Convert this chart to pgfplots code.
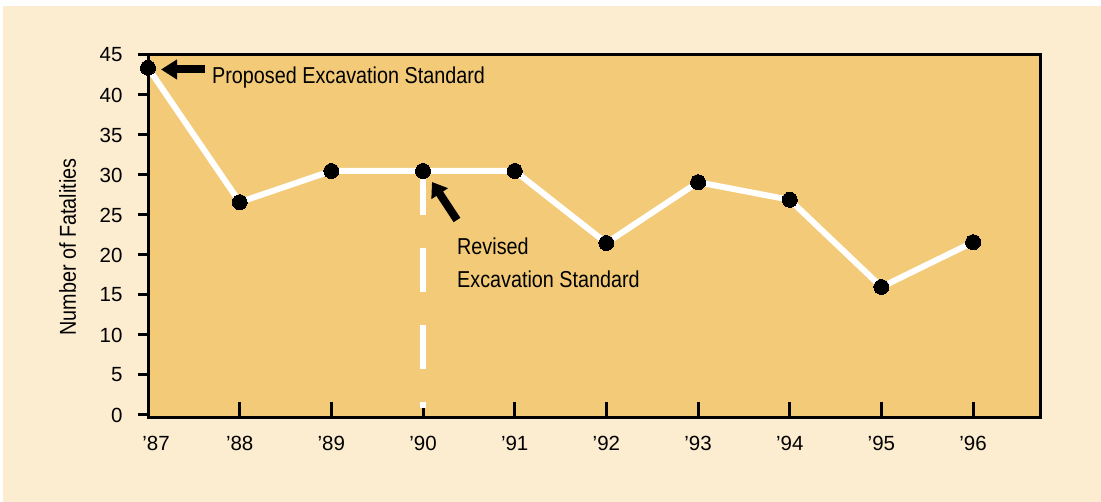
\documentclass[border=0pt]{standalone}
\usepackage{pgfplots}
\pgfplotsset{compat=1.18}
\usetikzlibrary{arrows.meta}
\usepackage{fontspec}
\setmainfont{Liberation Sans}[FakeStretch=0.86]
\newfontfamily\tickfamily{Liberation Sans}
\definecolor{pagecream}{RGB}{252,236,208}
\definecolor{panelorange}{RGB}{242,202,120}
\newcommand\ticksize{\tickfamily\fontsize{20.5bp}{24bp}\selectfont}
\newcommand\labelsize{\fontsize{23bp}{27bp}\selectfont}

% Trench fatalities per year
\pgfplotstableread{
x  y
0  43.4
1  26.6
2  30.5
3  30.5
4  30.5
5  21.5
6  29.1
7  26.9
8  16.0
9  21.6
}\fatalities

\begin{document}
\begin{tikzpicture}[x=1bp,y=1bp]
\fill[white] (0,0) rectangle (1101,502);
\fill[pagecream] (3,0) rectangle (1101,496);
\begin{axis}[
  at={(148bp,84bp)}, anchor=south west,
  scale only axis, width=892bp, height=363bp,
  xmin=0, xmax=9.73, ymin=-0.375, ymax=45,
  axis background/.style={fill=panelorange},
  axis line style={black, line width=3bp},
  tickpos=left,
  xtick align=inside, ytick align=outside,
  xtick={0,...,9},
  xticklabels={\hspace{16bp}’87,’88,’89,’90,’91,’92,’93,’94,’95,’96},
  ytick={0,5,...,45},
  major tick length=10bp,
  x tick style={/pgfplots/major tick length=16bp},
  tick style={black, line width=3bp},
  xticklabel style={font=\ticksize, anchor=north, yshift=-15bp},
  yticklabel style={font=\ticksize, anchor=east, xshift=-12bp},
  /pgf/number format/assume math mode=true,
  ylabel={Number of Fatalities},
  ylabel style={font=\labelsize, at={(axis description cs:-0.09,0.471)}, anchor=center},
  clip=false,
]
% revised standard marker line
\addplot[white, line width=6bp, dash pattern=on 44bp off 33bp] coordinates {(3,30.5) (3,0.9)};
\addplot[white, line width=6bp, mark=*, mark size=7.5bp,
  mark options={black, fill=black, line width=0pt}] table[x=x, y=y] {\fatalities};
\end{axis}
\draw[line width=8bp, -{Triangle[length=16bp, width=19bp]}] (205,432.5) -- (161,432.5);
\draw[line width=8bp, -{Triangle[length=14bp, width=19bp]}] (457,282) -- (432,320);
\node[anchor=base west, inner sep=0, font=\labelsize] at (212,418.5) {Proposed Excavation Standard};
\node[anchor=base west, inner sep=0, font=\labelsize] at (457,247) {Revised};
\node[anchor=base west, inner sep=0, font=\labelsize] at (457,214.7) {Excavation Standard};
\end{tikzpicture}
\end{document}
